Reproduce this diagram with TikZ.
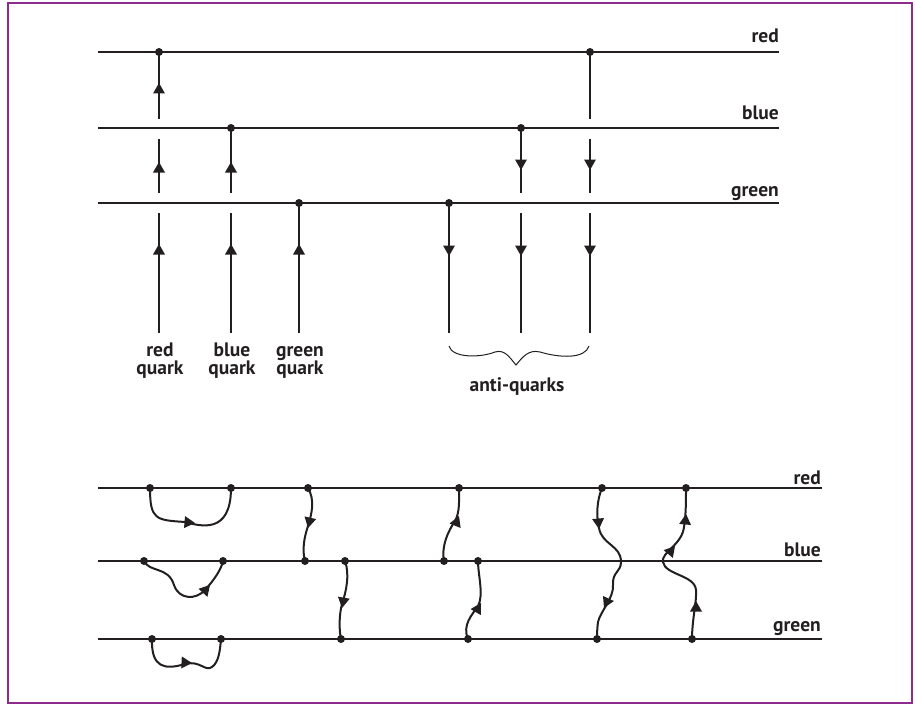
\documentclass[tikz,border=0pt]{standalone}
\usepackage{fontspec}
\setmainfont{PT Sans}
\usetikzlibrary{arrows.meta}
\definecolor{ink}{RGB}{35,31,32}
\definecolor{framec}{RGB}{142,44,142}
\begin{document}
\begin{tikzpicture}[x=1pt,y=-1pt,
  hline/.style={ink, line width=2.3pt},
  vline/.style={ink, line width=2pt},
  wline/.style={ink, line width=2pt, line cap=round},
  lab/.style={font=\bfseries\fontsize{19.5}{19.5}\selectfont, text=ink, inner sep=0pt},
  ahead/.pic={\fill[ink] (0,0) -- (-10.5,-6) -- (-10.5,6) -- cycle;},
]
\useasboundingbox (0,0) rectangle (915,706);
\draw[framec, line width=1.6pt] (8,3) rectangle (912,703);

% ---------- top: colour lines ----------
\coordinate (TRa) at (98,52);  \coordinate (TRb) at (779,52);
\coordinate (TBa) at (98,128); \coordinate (TBb) at (779,128);
\coordinate (TGa) at (98,203); \coordinate (TGb) at (779,203);
\draw[hline] (TRa) -- (TRb);
\draw[hline] (TBa) -- (TBb);
\draw[hline] (TGa) -- (TGb);
\node[lab, anchor=base east] (tlr) at (779,43) {red};
\node[lab, anchor=base east] (tlb) at (779,120) {blue};
\node[lab, anchor=base east] (tlg) at (779,196) {green};

% dots
\coordinate (d1) at (159,52);
\coordinate (d2) at (231,128);
\coordinate (d3) at (299,203);
\coordinate (d4) at (449,203);
\coordinate (d5) at (521,128);
\coordinate (d6) at (590,52);

% segment ends
\coordinate (a1) at (159,119); \coordinate (a2) at (159,139); \coordinate (a3) at (159,193);
\coordinate (a4) at (159,213); \coordinate (a5) at (159,333);
\coordinate (b1) at (231,193); \coordinate (b2) at (231,213); \coordinate (b3) at (231,333);
\coordinate (c1) at (299,333);
\coordinate (e1) at (449,333);
\coordinate (f1) at (521,193); \coordinate (f2) at (521,213); \coordinate (f3) at (521,333);
\coordinate (g1) at (590,119); \coordinate (g2) at (590,139); \coordinate (g3) at (590,193);
\coordinate (g4) at (590,213); \coordinate (g5) at (590,333);

\draw[vline] (d1) -- (a1);
\draw[vline] (a2) -- (a3);
\draw[vline] (a4) -- (a5);
\draw[vline] (d2) -- (b1);
\draw[vline] (b2) -- (b3);
\draw[vline] (d3) -- (c1);
\draw[vline] (d4) -- (e1);
\draw[vline] (d5) -- (f1);
\draw[vline] (f2) -- (f3);
\draw[vline] (d6) -- (g1);
\draw[vline] (g2) -- (g3);
\draw[vline] (g4) -- (g5);

\foreach \p in {d1,d2,d3,d4,d5,d6} \fill[ink] (\p) circle[radius=4pt];

% arrowheads top
\pic[rotate=90] at (159,83) {ahead};
\pic[rotate=90] at (159,162) {ahead};
\pic[rotate=90] at (231,162) {ahead};
\pic[rotate=90] at (159,244) {ahead};
\pic[rotate=90] at (231,244) {ahead};
\pic[rotate=90] at (299,244) {ahead};
\pic[rotate=-90] at (521,170) {ahead};
\pic[rotate=-90] at (590,170) {ahead};
\pic[rotate=-90] at (449,256) {ahead};
\pic[rotate=-90] at (521,256) {ahead};
\pic[rotate=-90] at (590,256) {ahead};

% labels
\node[lab, anchor=base] (q1a) at (160,356) {red};
\node[lab, anchor=base] (q1b) at (160,374) {quark};
\node[lab, anchor=base] (q2a) at (232,356) {blue};
\node[lab, anchor=base] (q2b) at (232,374) {quark};
\node[lab, anchor=base] (q3a) at (300,356) {green};
\node[lab, anchor=base] (q3b) at (300,374) {quark};

% brace
\coordinate (brl) at (449,346); \coordinate (brr) at (589,346);
\draw[ink, line width=1pt] (brl) .. controls (452,358) and (480,358) .. (495,352)
  .. controls (505,349) and (510,358) .. (516,365)
  .. controls (522,358) and (528,349) .. (540,352)
  .. controls (560,358) and (585,359) .. (brr);
\node[lab, anchor=base] (aq) at (517,391) {anti-quarks};

% ---------- bottom ----------
\coordinate (BRa) at (98,488);  \coordinate (BRb) at (822,488);
\coordinate (BBa) at (98,561);  \coordinate (BBb) at (822,561);
\coordinate (BGa) at (98,639);  \coordinate (BGb) at (822,639);
\draw[hline] (BRa) -- (BRb);
\draw[hline] (BBa) -- (BBb);
\draw[hline] (BGa) -- (BGb);
\node[lab, anchor=base east] (blr) at (821,484) {red};
\node[lab, anchor=base east] (blb) at (821,556) {blue};
\node[lab, anchor=base east] (blg) at (821,631) {green};

\coordinate (l1a) at (150,488); \coordinate (l1b) at (231,488);
\coordinate (l2a) at (144,561); \coordinate (l2b) at (223,561);
\coordinate (l3a) at (152,639); \coordinate (l3b) at (221,639);
\coordinate (c4a) at (308,488); \coordinate (c4b) at (305,561);
\coordinate (c5a) at (345,561); \coordinate (c5b) at (341,639);
\coordinate (c6a) at (444,561); \coordinate (c6b) at (459,488);
\coordinate (c7a) at (468,639); \coordinate (c7b) at (478,561);
\coordinate (c8a) at (602,488); \coordinate (c8b) at (597,639);
\coordinate (c9a) at (692,639); \coordinate (c9b) at (686,488);

\draw[wline] (l1a) .. controls (150,520) and (156,520) .. (185,522)
  .. controls (200,526) and (231,535) .. (l1b);
\draw[wline] (l2a) .. controls (150,573) and (168,566) .. (174,585)
  .. controls (179,600) and (196,600) .. (205,590)
  .. controls (214,580) and (221,570) .. (l2b);
\draw[wline] (l3a) .. controls (151,668) and (165,670) .. (185,664)
  .. controls (200,660) and (205,672) .. (212,667)
  .. controls (219,662) and (220,650) .. (l3b);
\draw[wline] (c4a) .. controls (315,500) and (312,513) .. (308,526)
  .. controls (304,538) and (302,550) .. (c4b);
\draw[wline] (c5a) .. controls (350,575) and (346,592) .. (342,604)
  .. controls (339,615) and (339,630) .. (c5b);
\draw[wline] (c6a) .. controls (441,545) and (449,530) .. (455,521)
  .. controls (460,512) and (459,500) .. (c6b);
\draw[wline] (c7a) .. controls (462,625) and (472,615) .. (478,606)
  .. controls (484,595) and (478,575) .. (c7b);
\draw[wline] (c8a) .. controls (597,500) and (596,515) .. (599,528)
  .. controls (602,545) and (621,545) .. (621,562)
  .. controls (621,572) and (612,572) .. (613,585)
  .. controls (614,598) and (600,612) .. (598,622)
  .. controls (597,630) and (597,635) .. (c8b);
\draw[wline] (c9a) .. controls (692,620) and (697,600) .. (696,590)
  .. controls (695,575) and (665,575) .. (663,562)
  .. controls (661,552) and (682,545) .. (684,527)
  .. controls (686,515) and (686,500) .. (c9b);

\foreach \p in {l1a,l1b,l2a,l2b,l3a,l3b,c4a,c4b,c5a,c5b,c6a,c6b,c7a,c7b,c8a,c8b,c9a,c9b}
  \fill[ink] (\p) circle[radius=4pt];

% arrowheads bottom
\pic[rotate=-5] at (195,523) {ahead};
\pic[rotate=48] at (210,585) {ahead};
\pic[rotate=-3] at (192,663) {ahead};
\pic[rotate=-103] at (308,528) {ahead};
\pic[rotate=-100] at (342,608) {ahead};
\pic[rotate=68] at (459,516) {ahead};
\pic[rotate=60] at (481,603) {ahead};
\pic[rotate=-85] at (599,529) {ahead};
\pic[rotate=-115] at (604,608) {ahead};
\pic[rotate=90] at (696,601) {ahead};
\pic[rotate=50] at (675,546) {ahead};
\pic[rotate=85] at (686,514) {ahead};
\end{tikzpicture}
\end{document}
